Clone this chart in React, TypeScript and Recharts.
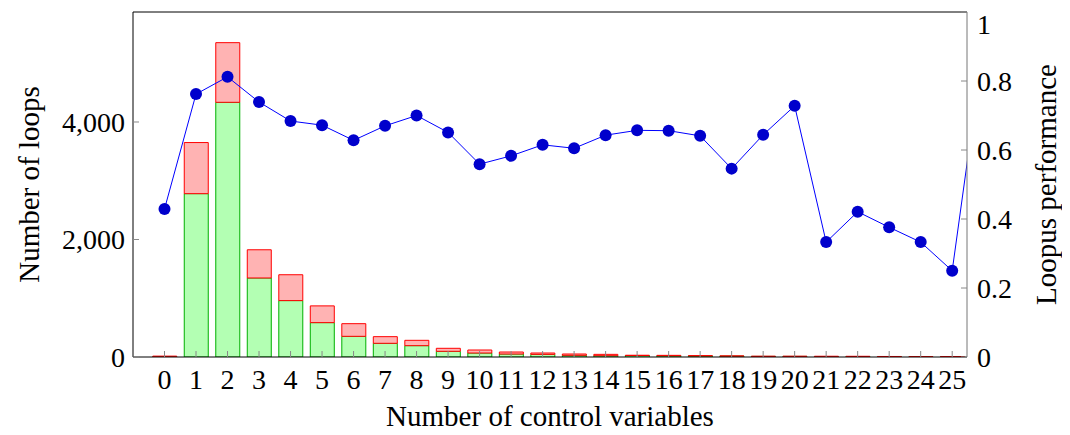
import { ComposedChart, Bar, Line, XAxis, YAxis, Label } from "recharts"

const controlVars = [0, 1, 2, 3, 4, 5, 6, 7, 8, 9, 10, 11, 12, 13, 14, 15, 16, 17, 18, 19, 20, 21, 22, 23, 24, 25, 26]
// green part of each bar
const solvedLoops = [5, 2780, 4335, 1345, 960, 585, 352, 233, 193, 97, 68, 51, 45, 29, 22, 25, 20, 18, 15, 10, 10, 5, 8, 3, 2, 2, null]
// red part stacked on top
const unsolvedLoops = [10, 870, 1015, 480, 440, 285, 215, 113, 91, 51, 51, 34, 23, 22, 23, 5, 8, 5, 3, 3, 3, 8, 4, 6, 4, 5, null]
const performance = [0.429, 0.762, 0.812, 0.739, 0.684, 0.672, 0.628, 0.67, 0.70, 0.651, 0.559, 0.583, 0.615, 0.605, 0.643, 0.657, 0.656, 0.641, 0.546, 0.644, 0.728, 0.333, 0.421, 0.376, 0.333, 0.25, 0.91]

const xTicks = controlVars.slice(0, 26)
const leftTicks = [0, 2000, 4000]
const rightTicks = [0, 0.2, 0.4, 0.6, 0.8, 1]

const data = controlVars.map((x, i) => ({
  x,
  solved: solvedLoops[i],
  unsolved: unsolvedLoops[i],
  perf: performance[i],
}))

const font = "Liberation Serif"
const tickStyle = { fill: "#000", fontSize: 28, fontFamily: font }
const tickGray = { stroke: "#888" }

export default function App() {
  return (
    <ComposedChart
      width={1062}
      height={427}
      data={data}
      margin={{ top: 3, right: 0, bottom: 0, left: 5 }}
      style={{ fontFamily: font }}
    >
      <XAxis
        dataKey="x"
        type="number"
        domain={[-1, 25.47]}
        ticks={xTicks}
        interval={0}
        allowDataOverflow
        height={78}
        tickSize={-6}
        tickMargin={18}
        tickLine={tickGray}
        axisLine={{ stroke: "#000" }}
        tick={tickStyle}
      >
        <Label
          value="Number of control variables"
          position="center"
          dy={20}
          fontSize={29}
          fill="#000"
          fontFamily={font}
        />
      </XAxis>
      <XAxis
        xAxisId="top"
        orientation="top"
        type="number"
        domain={[-1, 25.47]}
        ticks={xTicks}
        interval={0}
        allowDataOverflow
        height={1}
        tickSize={-6}
        tickLine={tickGray}
        axisLine={{ stroke: "#000" }}
        tick={false}
      />
      <YAxis
        yAxisId="left"
        domain={[0, 5872]}
        ticks={leftTicks}
        allowDataOverflow
        width={120}
        tickSize={-6}
        tickMargin={14}
        tickLine={tickGray}
        axisLine={{ stroke: "#000" }}
        tick={tickStyle}
        tickFormatter={(v: number) => v.toLocaleString("en-US")}
      >
        <Label
          value="Number of loops"
          angle={-90}
          position="center"
          dx={-44}
          fontSize={29}
          fill="#000"
          fontFamily={font}
        />
      </YAxis>
      <YAxis
        yAxisId="right"
        orientation="right"
        domain={[0, 1]}
        ticks={rightTicks}
        allowDataOverflow
        width={103}
        tickSize={-6}
        tickMargin={16}
        tickLine={tickGray}
        axisLine={{ stroke: "#777" }}
        tick={tickStyle}
      >
        <Label
          value="Loopus performance"
          angle={-90}
          position="center"
          dx={27}
          fontSize={29}
          fill="#000"
          fontFamily={font}
        />
      </YAxis>
      <Bar
        yAxisId="left"
        dataKey="solved"
        stackId="loops"
        barSize={24}
        fill="#b3ffb3"
        stroke="#00b000"
        strokeWidth={1}
        isAnimationActive={false}
      />
      <Bar
        yAxisId="left"
        dataKey="unsolved"
        stackId="loops"
        barSize={24}
        fill="#ffb3b3"
        stroke="#ff0000"
        strokeWidth={1}
        isAnimationActive={false}
      />
      <Line
        yAxisId="right"
        dataKey="perf"
        type="linear"
        stroke="#0000ff"
        strokeWidth={1}
        dot={{ r: 6, fill: "#0000cc", stroke: "#0000cc", strokeWidth: 0 }}
        isAnimationActive={false}
      />
    </ComposedChart>
  )
}
